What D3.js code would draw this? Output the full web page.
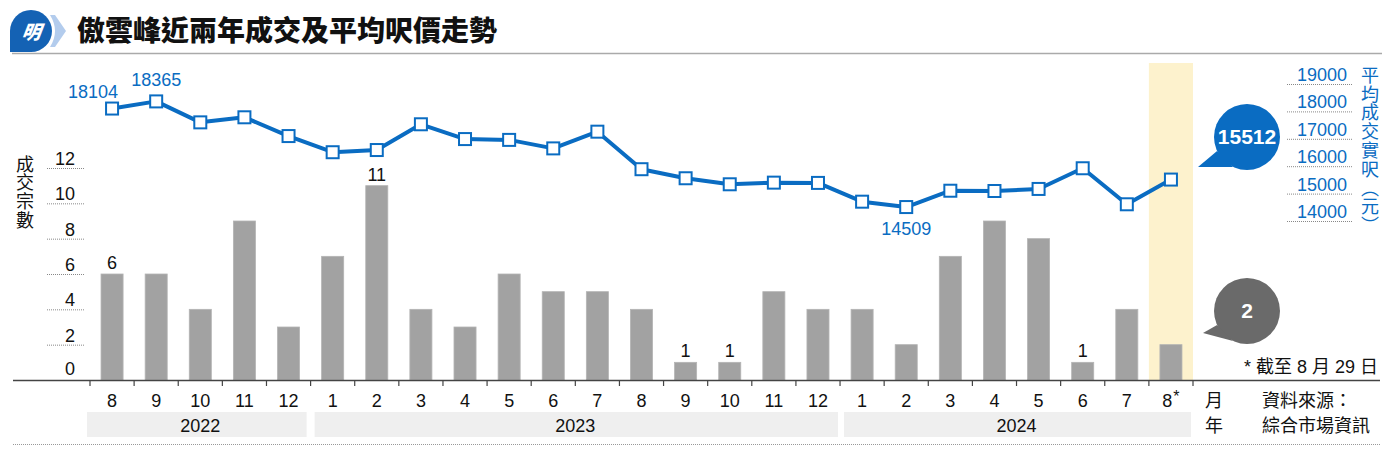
<!DOCTYPE html>
<html>
<head>
<meta charset="utf-8">
<script src="https://cdn.jsdelivr.net/npm/d3@7"></script>
<style>
  body { margin: 0; background: #fff; }
  svg text { font-family: "Liberation Sans", "Noto Sans CJK TC", sans-serif; }
  .cjk { font-family: "Noto Sans CJK TC", sans-serif; }
  .vert { writing-mode: vertical-rl; }
</style>
</head>
<body>
<svg width="1400" height="460"></svg>
<script>
// data
var monthLabels = ["8", "9", "10", "11", "12",
                   "1", "2", "3", "4", "5", "6", "7", "8", "9", "10", "11", "12",
                   "1", "2", "3", "4", "5", "6", "7", "8"];
var yearLabels = ["2022", "2023", "2024"];
var yearCounts = [5, 12, 8];
var deals = [6, 6, 4, 9, 3,
             7, 11, 4, 3, 6, 5, 5, 4, 1, 1, 5, 4,
             4, 2, 7, 9, 8, 1, 4, 2];
var prices = [18104, 18365, 17600, 17785, 17100,
              16510, 16590, 17530, 16990, 16960, 16650, 17260, 15890, 15560, 15340, 15400, 15390,
              14705, 14509, 15105, 15095, 15170, 15925, 14610, 15512];
var dealTicks = [2, 4, 6, 8, 10, 12];
var priceTicks = [14000, 15000, 16000, 17000, 18000, 19000];
var dealLabelIdx = [0, 6, 13, 14, 22];     // bars with a number above
var priceLabels = [{i: 0, pos: "left"}, {i: 1, pos: "top"}, {i: 18, pos: "bottom"}];

var blue = "#0a6cc2";
var svg = d3.select("svg");

var keys = monthLabels.map(function(d, i) { return i; });
var x = d3.scaleBand().domain(keys).range([90, 1193]).paddingInner(0.5).paddingOuter(0.25);
var step = x.step();
var yL = d3.scaleLinear().domain([0, 12]).range([380, 168]);
var yR = d3.scaleLinear().domain([14000, 19000]).range([221, 84]);

// title
var logo = svg.append("g");
logo.append("path").attr("d", "M10,52 L10,31 A21,21 0 1,1 31,52 Z").attr("fill", "#1462b4");
logo.append("text").attr("class", "cjk").attr("x", 31).attr("y", 39).attr("text-anchor", "middle")
  .attr("fill", "#fff").attr("font-size", 19).attr("font-weight", 900).attr("font-style", "italic")
  .attr("transform", "skewX(-8) translate(5,0)").text("明");
logo.append("path").attr("d", "M50,15 Q60,31 50,47 L55,47 L66,31 L55,15 Z").attr("fill", "#b3cced");

svg.append("text").attr("class", "cjk").attr("x", 77).attr("y", 41)
  .attr("font-size", 28).attr("font-weight", 900).attr("fill", "#111")
  .text("傲雲峰近兩年成交及平均呎價走勢");
svg.append("line").attr("x1", 12).attr("x2", 1382).attr("y1", 53.5).attr("y2", 53.5)
  .attr("stroke", "#aaa").attr("stroke-width", 1.5);

// highlight of the last month
var last = keys.length - 1;
svg.append("rect")
  .attr("x", x(last) - step * 0.25).attr("y", 63)
  .attr("width", step).attr("height", yL(0) - 63)
  .attr("fill", "#fdf2cd");

// left axis grid + labels
var gl = svg.append("g");
gl.selectAll("line").data(dealTicks).enter().append("line")
  .attr("x1", 47).attr("x2", 85)
  .attr("y1", function(d) { return yL(d) + 0.5; }).attr("y2", function(d) { return yL(d) + 0.5; })
  .attr("stroke", "#888").attr("stroke-dasharray", "1,1");
gl.selectAll("text").data([0].concat(dealTicks)).enter().append("text")
  .attr("x", 75).attr("y", function(d) { return yL(d) - (d === 0 ? 5 : 3); })
  .attr("text-anchor", "end").attr("font-size", 18).attr("fill", "#111")
  .text(function(d) { return d; });
svg.append("text").attr("class", "cjk vert").attr("x", 25).attr("y", 155)
  .attr("font-size", 18).attr("letter-spacing", 0.6).attr("fill", "#111")
  .text("成交宗數");

// right axis grid + labels
var gr = svg.append("g");
gr.selectAll("line").data(priceTicks).enter().append("line")
  .attr("x1", 1287).attr("x2", 1352)
  .attr("y1", function(d) { return yR(d) + 0.5; }).attr("y2", function(d) { return yR(d) + 0.5; })
  .attr("stroke", "#888").attr("stroke-dasharray", "1,1");
gr.selectAll("text").data(priceTicks).enter().append("text")
  .attr("x", 1347).attr("y", function(d) { return yR(d) - 3; })
  .attr("text-anchor", "end").attr("font-size", 18).attr("fill", blue)
  .text(function(d) { return d; });
svg.append("text").attr("class", "cjk vert").attr("x", 1370).attr("y", 66)
  .attr("font-size", 18).attr("letter-spacing", 0.8).attr("fill", blue)
  .text("平均成交實呎︵元︶");

// bars
svg.append("g").selectAll("rect").data(deals).enter().append("rect")
  .attr("x", function(d, i) { return x(i); })
  .attr("y", function(d) { return yL(d); })
  .attr("width", x.bandwidth())
  .attr("height", function(d) { return yL(0) - yL(d); })
  .attr("fill", "#a2a2a2").attr("stroke", "#b4b4b4").attr("stroke-width", 0.8);
svg.append("g").selectAll("text").data(dealLabelIdx).enter().append("text")
  .attr("x", function(i) { return x(i) + x.bandwidth() / 2; })
  .attr("y", function(i) { return yL(deals[i]) - 5; })
  .attr("text-anchor", "middle").attr("font-size", 18).attr("fill", "#111")
  .text(function(i) { return deals[i]; });

// price line
var cx = function(i) { return x(i) + x.bandwidth() / 2; };
var line = d3.line().x(function(d, i) { return cx(i); }).y(function(d) { return yR(d); });
svg.append("path").datum(prices).attr("d", line)
  .attr("fill", "none").attr("stroke", blue).attr("stroke-width", 4).attr("stroke-linejoin", "round");
svg.append("g").selectAll("rect").data(prices).enter().append("rect")
  .attr("x", function(d, i) { return cx(i) - 6; })
  .attr("y", function(d) { return yR(d) - 6; })
  .attr("width", 12).attr("height", 12)
  .attr("fill", "#fff").attr("stroke", blue).attr("stroke-width", 2);
svg.append("g").selectAll("text").data(priceLabels).enter().append("text")
  .attr("x", function(d) { return d.pos === "left" ? cx(d.i) - 19 : cx(d.i); })
  .attr("y", function(d) {
    var y = yR(prices[d.i]);
    return d.pos === "left" ? y - 11 : d.pos === "top" ? y - 15 : y + 28;
  })
  .attr("text-anchor", "middle").attr("font-size", 18).attr("fill", blue)
  .text(function(d) { return prices[d.i]; });

// bubbles
function bubble(cxp, cyp, tipx, tipy, fill, label) {
  var r = 33, a1 = 155 * Math.PI / 180, a2 = 115 * Math.PI / 180;
  var g = svg.append("g");
  g.append("circle").attr("cx", cxp).attr("cy", cyp).attr("r", r).attr("fill", fill);
  g.append("path").attr("d", "M" + tipx + "," + tipy +
      "L" + (cxp + r * Math.cos(a1)) + "," + (cyp + r * Math.sin(a1)) +
      "L" + (cxp + r * Math.cos(a2)) + "," + (cyp + r * Math.sin(a2)) + "Z")
    .attr("fill", fill);
  g.append("text").attr("x", cxp).attr("y", cyp + 7).attr("text-anchor", "middle")
    .attr("font-size", 21).attr("font-weight", "bold").attr("fill", "#fff").text(label);
}
bubble(1247, 137, 1198, 167, blue, prices[last]);
bubble(1247, 311, 1203, 333, "#6a6a6a", deals[last]);

// x axis
svg.append("line").attr("x1", 13).attr("x2", 1380).attr("y1", 380.5).attr("y2", 380.5)
  .attr("stroke", "#444").attr("stroke-width", 1.6);
var tickXs = d3.range(keys.length + 1).map(function(i) { return x.range()[0] + i * step; });
svg.append("g").selectAll("line").data(tickXs).enter().append("line")
  .attr("x1", function(d) { return d; }).attr("x2", function(d) { return d; })
  .attr("y1", 380).attr("y2", 386).attr("stroke", "#444").attr("stroke-width", 1.2);
var ml = svg.append("g").selectAll("text").data(monthLabels).enter().append("text")
  .attr("x", function(d, i) { return cx(i); }).attr("y", 407)
  .attr("text-anchor", "middle").attr("font-size", 18).attr("fill", "#111")
  .text(function(d) { return d; });
ml.filter(function(d, i) { return i === last; }).append("tspan")
  .attr("dx", 1).attr("dy", -5).attr("font-size", 16).text("*");

// year bands
var start = 0;
yearLabels.forEach(function(yl, j) {
  var x0 = tickXs[start], x1 = tickXs[start + yearCounts[j]];
  svg.append("rect").attr("x", x0 + (j === 0 ? -3 : 4)).attr("y", 412)
    .attr("width", x1 - x0 - (j === 0 ? 1 : 6)).attr("height", 25).attr("fill", "#efefef");
  svg.append("text").attr("x", (x0 + x1) / 2).attr("y", 432)
    .attr("text-anchor", "middle").attr("font-size", 18).attr("fill", "#111").text(yl);
  start += yearCounts[j];
});
svg.append("line").attr("x1", 13).attr("x2", 1380).attr("y1", 444.5).attr("y2", 444.5)
  .attr("stroke", "#999").attr("stroke-dasharray", "1,1");

// side notes
svg.append("text").attr("class", "cjk").attr("x", 1205).attr("y", 407).attr("font-size", 18).attr("fill", "#111").text("月");
svg.append("text").attr("class", "cjk").attr("x", 1205).attr("y", 432).attr("font-size", 18).attr("fill", "#111").text("年");
svg.append("text").attr("class", "cjk").attr("x", 1262).attr("y", 407).attr("font-size", 18).attr("fill", "#111").text("資料來源：");
svg.append("text").attr("class", "cjk").attr("x", 1262).attr("y", 432).attr("font-size", 18).attr("fill", "#111").text("綜合市場資訊");
svg.append("text").attr("x", 1378).attr("y", 373).attr("text-anchor", "end")
  .attr("font-size", 18).attr("fill", "#111").text("* 截至 8 月 29 日");
</script>
</body>
</html>
